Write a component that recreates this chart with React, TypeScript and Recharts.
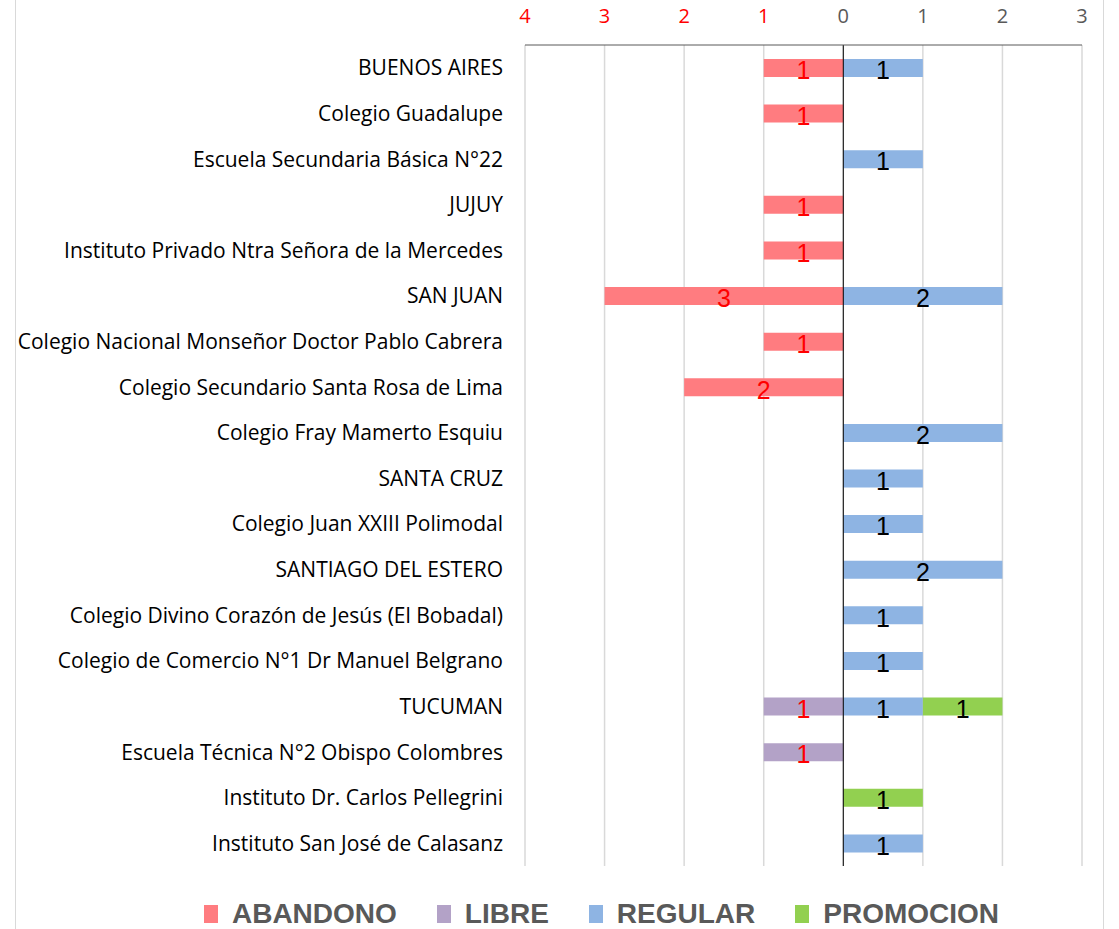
import React from "react";
import { BarChart, Bar, XAxis, YAxis, CartesianGrid, ReferenceLine, LabelList, Legend } from "recharts";

const categories = [
  "BUENOS AIRES",
  "Colegio Guadalupe",
  "Escuela Secundaria Básica N°22",
  "JUJUY",
  "Instituto Privado Ntra Señora de la Mercedes",
  "SAN JUAN",
  "Colegio Nacional Monseñor Doctor Pablo Cabrera",
  "Colegio Secundario Santa Rosa de Lima",
  "Colegio Fray Mamerto Esquiu",
  "SANTA CRUZ",
  "Colegio Juan XXIII Polimodal",
  "SANTIAGO DEL ESTERO",
  "Colegio Divino Corazón de Jesús (El Bobadal)",
  "Colegio de Comercio N°1 Dr Manuel Belgrano",
  "TUCUMAN",
  "Escuela Técnica N°2 Obispo Colombres",
  "Instituto Dr. Carlos Pellegrini",
  "Instituto San José de Calasanz",
];

// counts (abandono & libre are drawn to the left of zero)
const abandono = [1, 1, 0, 1, 1, 3, 1, 2, 0, 0, 0, 0, 0, 0, 0, 0, 0, 0];
const libre = [0, 0, 0, 0, 0, 0, 0, 0, 0, 0, 0, 0, 0, 0, 1, 1, 0, 0];
const regular = [1, 0, 1, 0, 0, 2, 0, 0, 2, 1, 1, 2, 1, 1, 1, 0, 0, 1];
const promocion = [0, 0, 0, 0, 0, 0, 0, 0, 0, 0, 0, 0, 0, 0, 1, 0, 1, 0];

const xTicks = [-4, -3, -2, -1, 0, 1, 2, 3];

const seriesNames = ["ABANDONO", "LIBRE", "REGULAR", "PROMOCION"];
const seriesColors = ["#FF7C80", "#B3A2C7", "#8EB4E3", "#92D050"];

const data = categories.map((name, i) => ({
  name,
  ABANDONO: abandono[i] ? -abandono[i] : null,
  LIBRE: libre[i] ? -libre[i] : null,
  REGULAR: regular[i] ? regular[i] : null,
  PROMOCION: promocion[i] ? promocion[i] : null,
}));

const FONT = "'Liberation Sans', Arial, sans-serif";
const CAT_FONT = "'Open Sans', 'Liberation Sans', sans-serif";

const XTick = (props: any) => {
  const { x, y, payload } = props;
  const v = payload.value;
  return (
    <text x={x} y={y} textAnchor="middle" fontFamily={CAT_FONT} fontSize={20} fill={v < 0 ? "#FF0000" : "#595959"}>
      {Math.abs(v)}
    </text>
  );
};

const YTick = (props: any) => {
  const { x, y, payload } = props;
  return (
    <text x={x} y={y} dy="0.36em" textAnchor="end" fontFamily={CAT_FONT} fontSize={21} fill="#000">
      {payload.value}
    </text>
  );
};

const makeLabel = (color: string) => (props: any) => {
  const { x, y, width, height, value } = props;
  if (value === null || value === undefined || value === 0) return null;
  return (
    <text
      x={x + width / 2}
      y={y + height / 2}
      dy="0.45em"
      textAnchor="middle"
      fontFamily={FONT}
      fontSize={25}
      fill={color}
    >
      {Math.abs(value)}
    </text>
  );
};

const LegendContent = () => (
  <div
    style={{
      display: "flex",
      justifyContent: "center",
      alignItems: "center",
      height: 34,
      paddingLeft: 84,
      boxSizing: "border-box",
      fontFamily: FONT,
      fontWeight: "bold",
      fontSize: 28,
      lineHeight: "34px",
      color: "#595959",
    }}
  >
    {seriesNames.map((n, i) => (
      <div key={n} style={{ display: "flex", alignItems: "center", marginRight: i < 3 ? 40 : 0 }}>
        <div style={{ width: 14, height: 18, background: seriesColors[i], marginRight: 14 }} />
        <span>{n}</span>
      </div>
    ))}
  </div>
);

export default function App() {
  return (
    <div style={{ position: "absolute", left: 0, top: 0, width: 1119, height: 929, overflow: "hidden", background: "#fff" }}>
      <div
        style={{
          position: "absolute",
          left: 15,
          top: -20,
          width: 1087,
          height: 1000,
          border: "1.5px solid #D9D9D9",
        }}
      />
      <BarChart
        width={1119}
        height={929}
        data={data}
        layout="vertical"
        stackOffset="sign"
        margin={{ top: 0, right: 37, bottom: 29, left: 0 }}
        barSize={18}
      >
        <CartesianGrid horizontal={false} stroke="#D9D9D9" strokeWidth={1.5} />
        <XAxis
          type="number"
          orientation="top"
          domain={[-4, 3]}
          ticks={xTicks}
          height={45}
          tickSize={0}
          tickMargin={22}
          tick={<XTick />}
          axisLine={{ stroke: "#595959", strokeWidth: 1 }}
          tickLine={false}
          interval={0}
        />
        <YAxis
          type="category"
          dataKey="name"
          width={525}
          tickSize={0}
          tickMargin={22}
          tick={<YTick />}
          axisLine={false}
          tickLine={false}
          interval={0}
        />
        <ReferenceLine x={0} stroke="#000" strokeWidth={1} />
        {seriesNames.map((n, i) => (
          <Bar key={n} dataKey={n} stackId="s" fill={seriesColors[i]} isAnimationActive={false}>
            <LabelList dataKey={n} content={makeLabel(i < 2 ? "#FF0000" : "#000")} />
          </Bar>
        ))}
        <Legend
          verticalAlign="bottom"
          content={<LegendContent />}
          wrapperStyle={{ position: "absolute", top: 897, left: 0, width: 1119, height: 34 }}
        />
      </BarChart>
    </div>
  );
}
